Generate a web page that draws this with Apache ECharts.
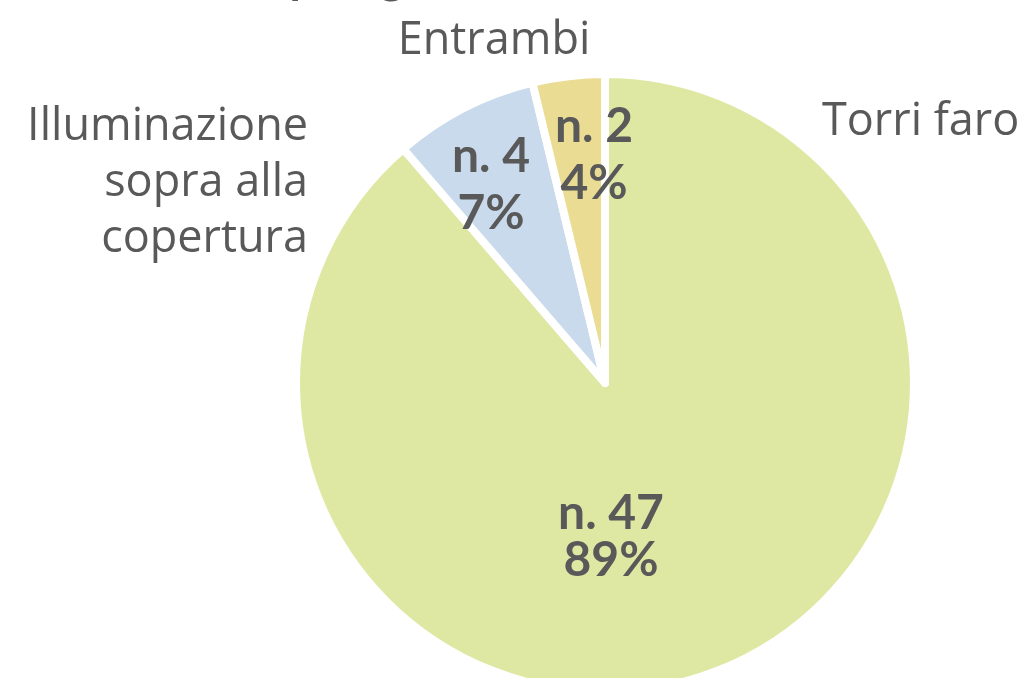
<!DOCTYPE html>
<html>
<head>
<meta charset="utf-8">
<script src="https://cdn.jsdelivr.net/npm/echarts@6/dist/echarts.min.js"></script>
<style>
  html, body { margin: 0; padding: 0; background: #fff; }
  #chart { width: 1031px; height: 678px; }
</style>
</head>
<body>
<div id="chart"></div>
<script>
// data
var categories = ['Torri faro', 'Illuminazione\nsopra alla\ncopertura', 'Entrambi'];
var counts = [47, 4, 2];
var colors = ['#dfe8a2', '#c9daed', '#ebdc94'];
var titleText = 'Tipologia di illuminazione:';

var chart = echarts.init(document.getElementById('chart'));

// where the labels sit (inside / outside), by slice index
var innerPos = [[611, 537], [491, 185], [594, 155]];
var outerPos = [
    { x: 822, y: 122, align: 'left' },
    { x: 308, y: 183, align: 'right' },
    { x: 494, y: 41, align: 'center' }
];

var pieData = categories.map(function (name, i) {
    return {
        name: name,
        value: counts[i],
        itemStyle: { color: colors[i] },
        label: { lineHeight: i === 0 ? 47 : 57 }
    };
});

var common = {
    type: 'pie',
    center: [605, 383],
    radius: 309,
    startAngle: 90,
    clockwise: true,
    percentPrecision: 0,
    animation: false,
    labelLine: { show: false }
};

chart.setOption({
    backgroundColor: '#fff',
    graphic: [{
        type: 'text',
        left: 'center',
        top: -45,
        style: {
            text: titleText,
            fontFamily: 'Lato',
            fontWeight: 'bold',
            fontSize: 46,
            fill: '#595959'
        }
    }],
    series: [
        Object.assign({}, common, {
            data: pieData,
            itemStyle: { borderColor: '#fff', borderWidth: 8 },
            label: {
                position: 'inside',
                formatter: 'n. {c}\n{d}%',
                fontFamily: 'Lato',
                fontWeight: 'bold',
                fontSize: 48,
                color: '#595959',
                align: 'center'
            },
            labelLayout: function (p) {
                var q = innerPos[p.dataIndex];
                return { x: q[0], y: q[1], align: 'center', verticalAlign: 'middle' };
            }
        }),
        Object.assign({}, common, {
            silent: true,
            data: categories.map(function (name, i) {
                return { name: name, value: counts[i] };
            }),
            itemStyle: { color: 'rgba(0,0,0,0)', borderWidth: 0 },
            label: {
                position: 'outside',
                formatter: '{b}',
                fontFamily: 'Open Sans',
                fontSize: 45,
                lineHeight: 56,
                color: '#595959'
            },
            labelLayout: function (p) {
                var q = outerPos[p.dataIndex];
                return { x: q.x, y: q.y, align: q.align, verticalAlign: 'middle' };
            }
        })
    ]
});
</script>
</body>
</html>
